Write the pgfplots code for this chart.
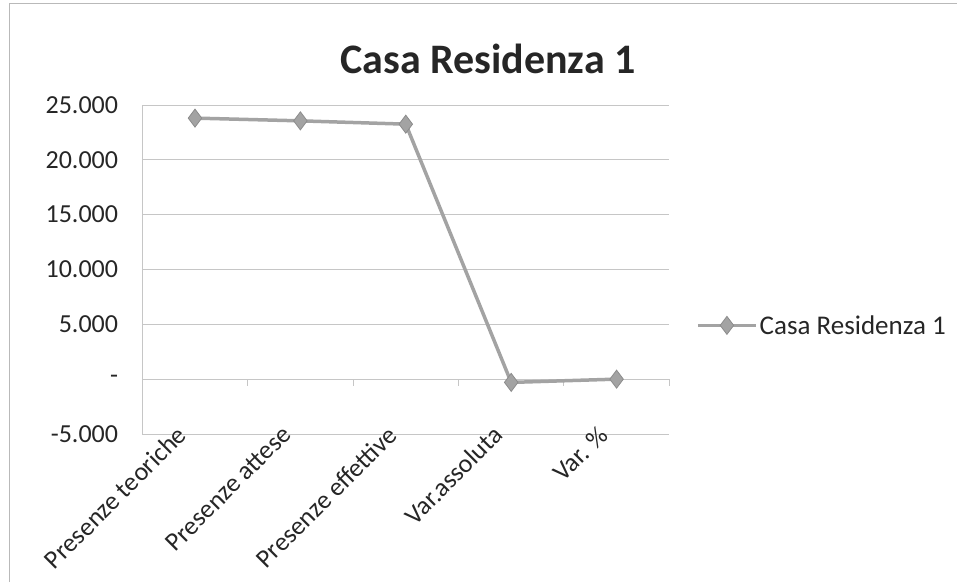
\documentclass[border=0pt]{standalone}
\usepackage{fontspec}
\setmainfont{Carlito}
\usepackage{pgfplots}
\pgfplotsset{compat=1.18}
\definecolor{serie}{HTML}{A3A3A3}
\definecolor{serieedge}{HTML}{8C8C8C}
\definecolor{gridc}{HTML}{C6C6C6}
\begin{document}
\begin{tikzpicture}[x=1pt,y=1pt]
\path[use as bounding box] (0,0) rectangle (957,582);
\draw[gray!55, line width=1pt] (9,0) -- (9,578) -- (957,578);
\node[font=\fontsize{42}{42}\selectfont\bfseries, text=black!85] at (488,523) {Casa Residenza 1};
\begin{axis}[
  at={(135,135)}, anchor=south west,
  scale only axis, width=527pt, height=329pt,
  xmin=-0.5, xmax=4.5, ymin=-5000, ymax=25000,
  scaled y ticks=false,
  ytick={-5000,0,5000,10000,15000,20000,25000},
  yticklabels={-5.000,-,5.000,10.000,15.000,20.000,25.000},
  xtick={0,1,2,3,4},
  xticklabels={Presenze teoriche,Presenze attese,Presenze effettive,Var.assoluta,Var. \%},
  x tick label style={rotate=45, anchor=north east, inner sep=1pt, xshift=-6pt, yshift=22pt,
    font=\fontsize{26}{26}\selectfont, text=black!85},
  y tick label style={anchor=east, inner sep=0pt, xshift=-24pt, font=\fontsize{26}{26}\selectfont, text=black!85},
  tick style={draw=none},
  axis lines*=left,
  x axis line style={draw=none},
  y axis line style={gridc, line width=0.9pt},
  ymajorgrids, major grid style={gridc, line width=0.9pt},
  clip=false,
  legend style={at={(axis description cs:1.045,0.33)}, anchor=west, draw=none, fill=none,
    font=\fontsize{27}{27}\selectfont, text=black!85},
  legend image code/.code={\draw[mark repeat=2,mark phase=2] plot coordinates {(0pt,0pt)(29pt,0pt)(58pt,0pt)};},
]
\foreach \xx in {-0.5,0.5,1.5,2.5,3.5,4.5} {
  \edef\temp{\noexpand\draw[gridc, line width=0.9pt] (axis cs:\xx,0) -- ([yshift=-7pt]axis cs:\xx,0);}
  \temp
}
\addplot[serie, line width=3.5pt, mark=diamond*, mark size=9pt,
  mark options={fill=serie, draw=serieedge, line width=0.8pt}]
  coordinates {(0,23800) (1,23550) (2,23250) (3,-300) (4,-1.3)};
\addlegendentry{Casa Residenza 1}
\end{axis}
\end{tikzpicture}
\end{document}
